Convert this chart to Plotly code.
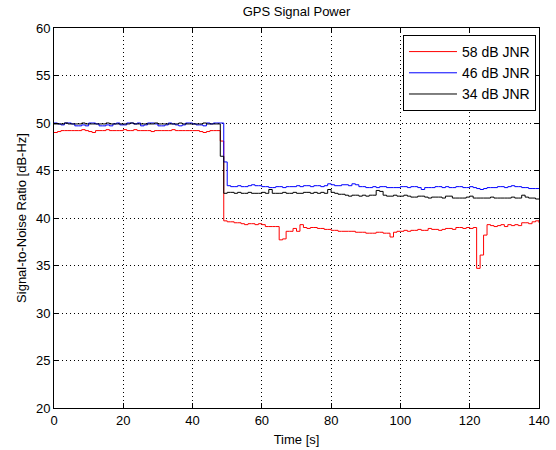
import plotly.graph_objects as go

time_s = list(range(141))

snr_58 = [
    49.0, 49.1, 49.2, 49.2, 49.2, 49.2, 49.2, 49.2, 49.3, 49.2,
    49.1, 49.0, 49.2, 49.2, 49.2, 49.3, 49.2, 49.2, 49.2, 49.2,
    49.3, 49.2, 49.2, 49.3, 49.2, 49.2, 49.2, 49.2, 49.1, 49.2,
    49.2, 49.2, 49.2, 49.2, 49.3, 49.2, 49.2, 49.2, 49.2, 49.2,
    49.2, 49.2, 49.1, 49.0, 49.1, 49.2, 49.2, 49.2, 48.1, 39.7,
    39.6, 39.6, 39.5, 39.5, 39.4, 39.3, 39.4, 39.4, 39.3, 39.4,
    39.3, 39.1, 39.1, 39.1, 39.1, 37.7, 37.8, 38.6, 38.6, 38.9,
    38.6, 39.3, 39.0, 38.9, 39.0, 39.0, 38.9, 38.9, 38.8, 38.8,
    38.7, 38.7, 38.6, 38.6, 38.6, 38.6, 38.6, 38.5, 38.5, 38.5,
    38.4, 38.4, 38.4, 38.5, 38.5, 38.4, 38.4, 38.0, 38.5, 38.6,
    38.6, 38.7, 38.6, 38.7, 38.7, 38.8, 38.7, 38.7, 38.9, 38.8,
    38.8, 38.7, 38.8, 38.9, 38.9, 38.8, 39.0, 39.0, 38.9, 39.0,
    38.9, 39.0, 34.7, 36.1, 38.2, 39.3, 39.2, 39.1, 39.2, 39.3,
    39.1, 39.3, 39.2, 39.3, 39.2, 39.5, 39.5, 39.4, 39.6, 39.7,
    39.5,
]

snr_46 = [
    50.0, 49.9, 49.8, 50.0, 50.0, 49.9, 49.7, 49.7, 49.8, 49.7,
    50.0, 50.0, 49.9, 49.7, 49.7, 49.8, 49.7, 49.9, 50.0, 49.8,
    49.8, 50.0, 50.0, 49.9, 50.0, 49.7, 49.8, 50.0, 50.0, 49.9,
    49.7, 49.7, 49.8, 50.0, 49.9, 49.8, 49.7, 49.8, 50.0, 50.0,
    49.9, 49.8, 49.8, 49.7, 50.0, 49.9, 50.0, 50.0, 50.0, 45.9,
    43.4, 43.3, 43.3, 43.4, 43.3, 43.3, 43.4, 43.5, 43.4, 43.4,
    43.3, 43.3, 43.2, 43.2, 43.3, 43.3, 43.2, 43.3, 43.3, 43.3,
    43.4, 43.3, 43.4, 43.4, 43.3, 43.4, 43.4, 43.3, 43.4, 43.6,
    43.5, 43.4, 43.4, 43.5, 43.5, 43.4, 43.6, 43.5, 43.3, 43.3,
    43.2, 43.2, 43.3, 43.2, 43.3, 43.3, 43.2, 43.2, 43.2, 43.2,
    43.3, 43.3, 43.2, 43.3, 43.3, 43.2, 43.0, 43.2, 43.2, 43.2,
    43.3, 43.3, 43.2, 43.3, 43.2, 43.2, 43.3, 43.3, 43.2, 43.2,
    43.3, 43.2, 43.1, 43.0, 43.1, 43.2, 43.2, 43.2, 43.3, 43.3,
    43.2, 43.3, 43.4, 43.3, 43.3, 43.2, 43.2, 43.1, 43.1, 43.1,
    43.1,
]

snr_34 = [
    49.9, 49.9, 49.9, 50.0, 49.9, 49.9, 49.9, 49.9, 50.0, 49.9,
    49.9, 49.9, 49.9, 49.9, 49.9, 50.0, 49.9, 49.9, 49.9, 49.9,
    49.9, 49.9, 50.0, 49.9, 49.9, 49.9, 49.9, 49.9, 49.9, 50.0,
    49.9, 49.9, 49.9, 49.9, 49.9, 49.9, 50.0, 49.9, 49.9, 49.9,
    49.9, 49.9, 49.9, 50.0, 49.9, 49.9, 49.9, 49.9, 46.5, 42.6,
    42.7, 42.7, 42.6, 42.7, 42.6, 42.6, 42.7, 42.6, 42.6, 42.6,
    42.7, 42.6, 43.0, 42.6, 42.6, 42.6, 42.7, 42.6, 42.6, 42.7,
    42.6, 42.6, 42.7, 42.7, 42.6, 42.7, 42.6, 42.7, 42.6, 43.0,
    42.7, 42.6, 42.5, 42.5, 42.4, 42.3, 42.4, 42.4, 42.3, 42.4,
    42.3, 42.4, 42.4, 42.9, 42.8, 42.4, 42.3, 42.3, 42.4, 42.3,
    42.3, 42.4, 42.3, 42.2, 42.2, 42.3, 42.3, 42.2, 42.1, 42.2,
    42.2, 42.2, 42.1, 42.3, 42.3, 42.1, 42.1, 42.1, 42.1, 42.2,
    42.3, 42.1, 42.1, 42.1, 42.1, 42.1, 42.2, 42.1, 42.1, 42.1,
    42.1, 42.1, 42.2, 42.1, 42.1, 42.4, 42.2, 42.1, 42.1, 42.0,
    42.0,
]

series = [
    ("58 dB JNR", snr_58, "#ff0000"),
    ("46 dB JNR", snr_46, "#0000ff"),
    ("34 dB JNR", snr_34, "#000000"),
]

x_ticks = [0, 20, 40, 60, 80, 100, 120, 140]
y_ticks = [20, 25, 30, 35, 40, 45, 50, 55, 60]

FONT = "Liberation Sans, Arial, Helvetica, sans-serif"

fig = go.Figure()
for name, vals, color in series:
    fig.add_trace(go.Scatter(
        x=time_s, y=vals, name=name, mode="lines",
        line=dict(color=color, width=1, shape="hv"),
    ))

axis_common = dict(
    showline=True, linecolor="black", linewidth=1, mirror="ticks",
    ticks="inside", ticklen=5, tickcolor="black", tickwidth=1,
    showgrid=True, gridcolor="black", gridwidth=1, griddash="1px,3px",
    zeroline=False, automargin=False,
    tickfont=dict(family=FONT, size=13, color="black"),
)

fig.update_layout(
    width=556, height=450,
    margin=dict(l=54, r=17, t=28, b=42),
    paper_bgcolor="white", plot_bgcolor="white",
    font=dict(family=FONT, size=13, color="black"),
    title=dict(text="GPS Signal Power", x=0.5, xref="paper", y=0.975,
               yanchor="middle", font=dict(family=FONT, size=13, color="black")),
    xaxis=dict(range=[0, 140], tickvals=x_ticks,
               title=dict(text="Time [s]", standoff=8,
                          font=dict(family=FONT, size=13)),
               **axis_common),
    yaxis=dict(range=[20, 60], tickvals=y_ticks,
               title=dict(text="Signal-to-Noise Ratio [dB-Hz]", standoff=6,
                          font=dict(family=FONT, size=13)),
               **axis_common),
    legend=dict(x=0.9938, y=0.9816, xanchor="right", yanchor="top",
                bgcolor="white", bordercolor="black", borderwidth=1,
                font=dict(family=FONT, size=14), tracegroupgap=0,
                itemwidth=48),
    showlegend=True,
)

fig.write_html("out.html")
